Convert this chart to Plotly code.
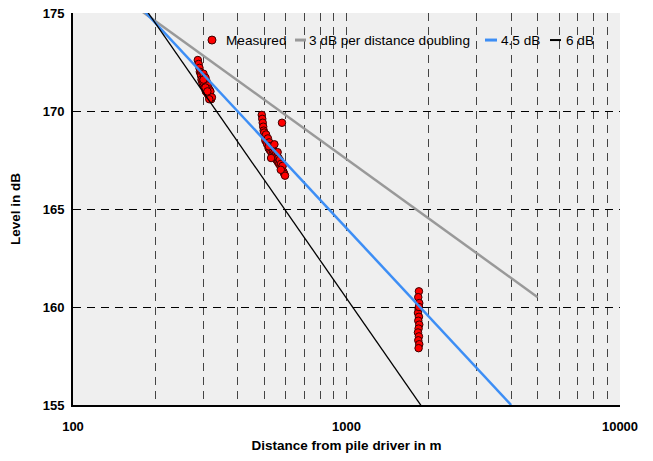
import plotly.graph_objects as go

# Measured data: distance (m) and level (dB)
meas_r = [286, 288, 290, 291, 293, 294, 295, 297, 298, 300, 301, 303, 305, 306, 308, 310, 311, 313, 315, 317, 318, 320, 322, 300, 305, 310, 315,
          490, 492, 494, 496, 498, 500, 503, 505, 508, 510, 513, 516, 519, 522, 525, 528, 531, 534, 537, 540, 543, 546, 549, 552, 555, 558,
          561, 564, 567, 570, 573, 576, 580, 584, 588, 592, 596, 520, 530, 545, 560, 575, 581,
          1840, 1830, 1845, 1835, 1825, 1840, 1830, 1845, 1835, 1825, 1840, 1830, 1845, 1835, 1840]
meas_L = [172.6, 172.4, 172.2, 172.0, 171.9, 171.8, 171.6, 171.5, 171.4, 171.9, 171.3, 171.2, 171.7, 171.0, 171.5, 170.9, 171.3, 170.8, 171.1, 170.7, 171.0, 170.6, 170.7, 171.6, 171.2, 171.0, 170.6,
          169.8, 169.6, 169.4, 169.2, 169.0, 168.9, 168.7, 168.5, 168.8, 168.4, 168.3, 168.6, 168.1, 168.4, 168.0, 168.2, 167.9, 168.1, 167.8, 168.0, 167.7, 167.9, 167.6, 167.8, 167.5, 167.7,
          167.4, 167.6, 167.3, 167.5, 167.2, 167.3, 167.1, 167.2, 166.9, 166.8, 166.7, 168.2, 167.6, 168.3, 167.9, 167.0, 169.4,
          160.8, 160.5, 160.2, 159.9, 159.7, 159.5, 159.3, 159.1, 158.9, 158.7, 158.5, 158.3, 158.1, 157.9, 160.0]

# Reference lines (start / end points)
line3_r = [170, 5000]
line3_L = [175.3, 160.5]
line45_r = [170, 4000]
line45_L = [175.55, 155.0]
line6_r = [170, 2000]
line6_L = [175.9, 154.4]

series_names = ["Measured", "3 dB per distance doubling", "4.5 dB", "6 dB"]

x_tickvals = [100, 200, 300, 400, 500, 600, 700, 800, 900, 1000, 2000, 3000, 4000, 5000, 6000, 7000, 8000, 9000, 10000]
x_ticktext = ["100", "", "", "", "", "", "", "", "", "1000", "", "", "", "", "", "", "", "", "10000"]
y_tickvals = [155, 160, 165, 170, 175]

FONT = "Liberation Sans, Arial, sans-serif"
RED, GRAY, BLUE, BLACK = "#ff0000", "#999999", "#3d8ef5", "#000000"

fig = go.Figure()
fig.add_trace(go.Scatter(x=meas_r, y=meas_L, mode="markers", name=series_names[0],
                         marker=dict(color=RED, size=7.5, line=dict(color="#3a0000", width=1))))
fig.add_trace(go.Scatter(x=line3_r, y=line3_L, mode="lines", name=series_names[1],
                         line=dict(color=GRAY, width=2.5)))
fig.add_trace(go.Scatter(x=line45_r, y=line45_L, mode="lines", name=series_names[2],
                         line=dict(color=BLUE, width=2.5)))
fig.add_trace(go.Scatter(x=line6_r, y=line6_L, mode="lines", name=series_names[3],
                         line=dict(color=BLACK, width=1.3)))

# Compact legend drawn in paper coordinates (legend row)
LEG_Y = 0.931
shapes = [
    dict(type="circle", xref="paper", yref="paper", xsizemode="pixel", ysizemode="pixel",
         xanchor=0.2541, yanchor=LEG_Y, x0=-4, x1=4, y0=-4, y1=4,
         fillcolor=RED, line=dict(color="#3a0000", width=1)),
    dict(type="line", xref="paper", yref="paper", x0=0.4059, x1=0.4260, y0=LEG_Y, y1=LEG_Y,
         line=dict(color=GRAY, width=3)),
    dict(type="line", xref="paper", yref="paper", x0=0.7532, x1=0.7751, y0=LEG_Y, y1=LEG_Y,
         line=dict(color=BLUE, width=3)),
    dict(type="line", xref="paper", yref="paper", x0=0.8720, x1=0.8921, y0=LEG_Y, y1=LEG_Y,
         line=dict(color=BLACK, width=2)),
]
text_x = [0.2761, 0.4278, 0.7788, 0.8976]
annotations = [dict(x=tx, y=LEG_Y, xref="paper", yref="paper", text=nm, showarrow=False,
                    xanchor="left", yanchor="middle", font=dict(family=FONT, size=13.6, color="black"))
               for tx, nm in zip(text_x, series_names)]

fig.update_layout(
    width=653, height=461,
    margin=dict(l=73, r=33, t=13, b=56, autoexpand=False),
    paper_bgcolor="white",
    plot_bgcolor="#efefef",
    font=dict(family=FONT, size=13, color="black"),
    showlegend=False,
    shapes=shapes,
    annotations=annotations,
)
fig.update_xaxes(type="log", range=[2, 4], tickvals=x_tickvals, ticktext=x_ticktext,
                 showgrid=True, gridcolor="#444444", griddash="8px,6px", gridwidth=1.2,
                 showline=True, linecolor="black", linewidth=2, mirror=False,
                 ticks="", zeroline=False, automargin=False, ticklabelstandoff=8,
                 tickfont=dict(family=FONT, size=13, weight="bold"),
                 title=dict(text="Distance from pile driver in m",
                            font=dict(family=FONT, size=13.5, weight="bold"), standoff=8))
fig.update_yaxes(range=[155, 175], tickvals=y_tickvals,
                 showgrid=True, gridcolor="#000000", griddash="8px,6px", gridwidth=1.2,
                 showline=True, linecolor="black", linewidth=2, mirror=False,
                 ticks="", zeroline=False, automargin=False, ticklabelstandoff=4,
                 tickfont=dict(family=FONT, size=13, weight="bold"),
                 title=dict(text="Level in dB",
                            font=dict(family=FONT, size=13.5, weight="bold"), standoff=19))

fig.write_html("out.html", config={"displayModeBar": False},
               post_script="document.body.style.margin='0';")
